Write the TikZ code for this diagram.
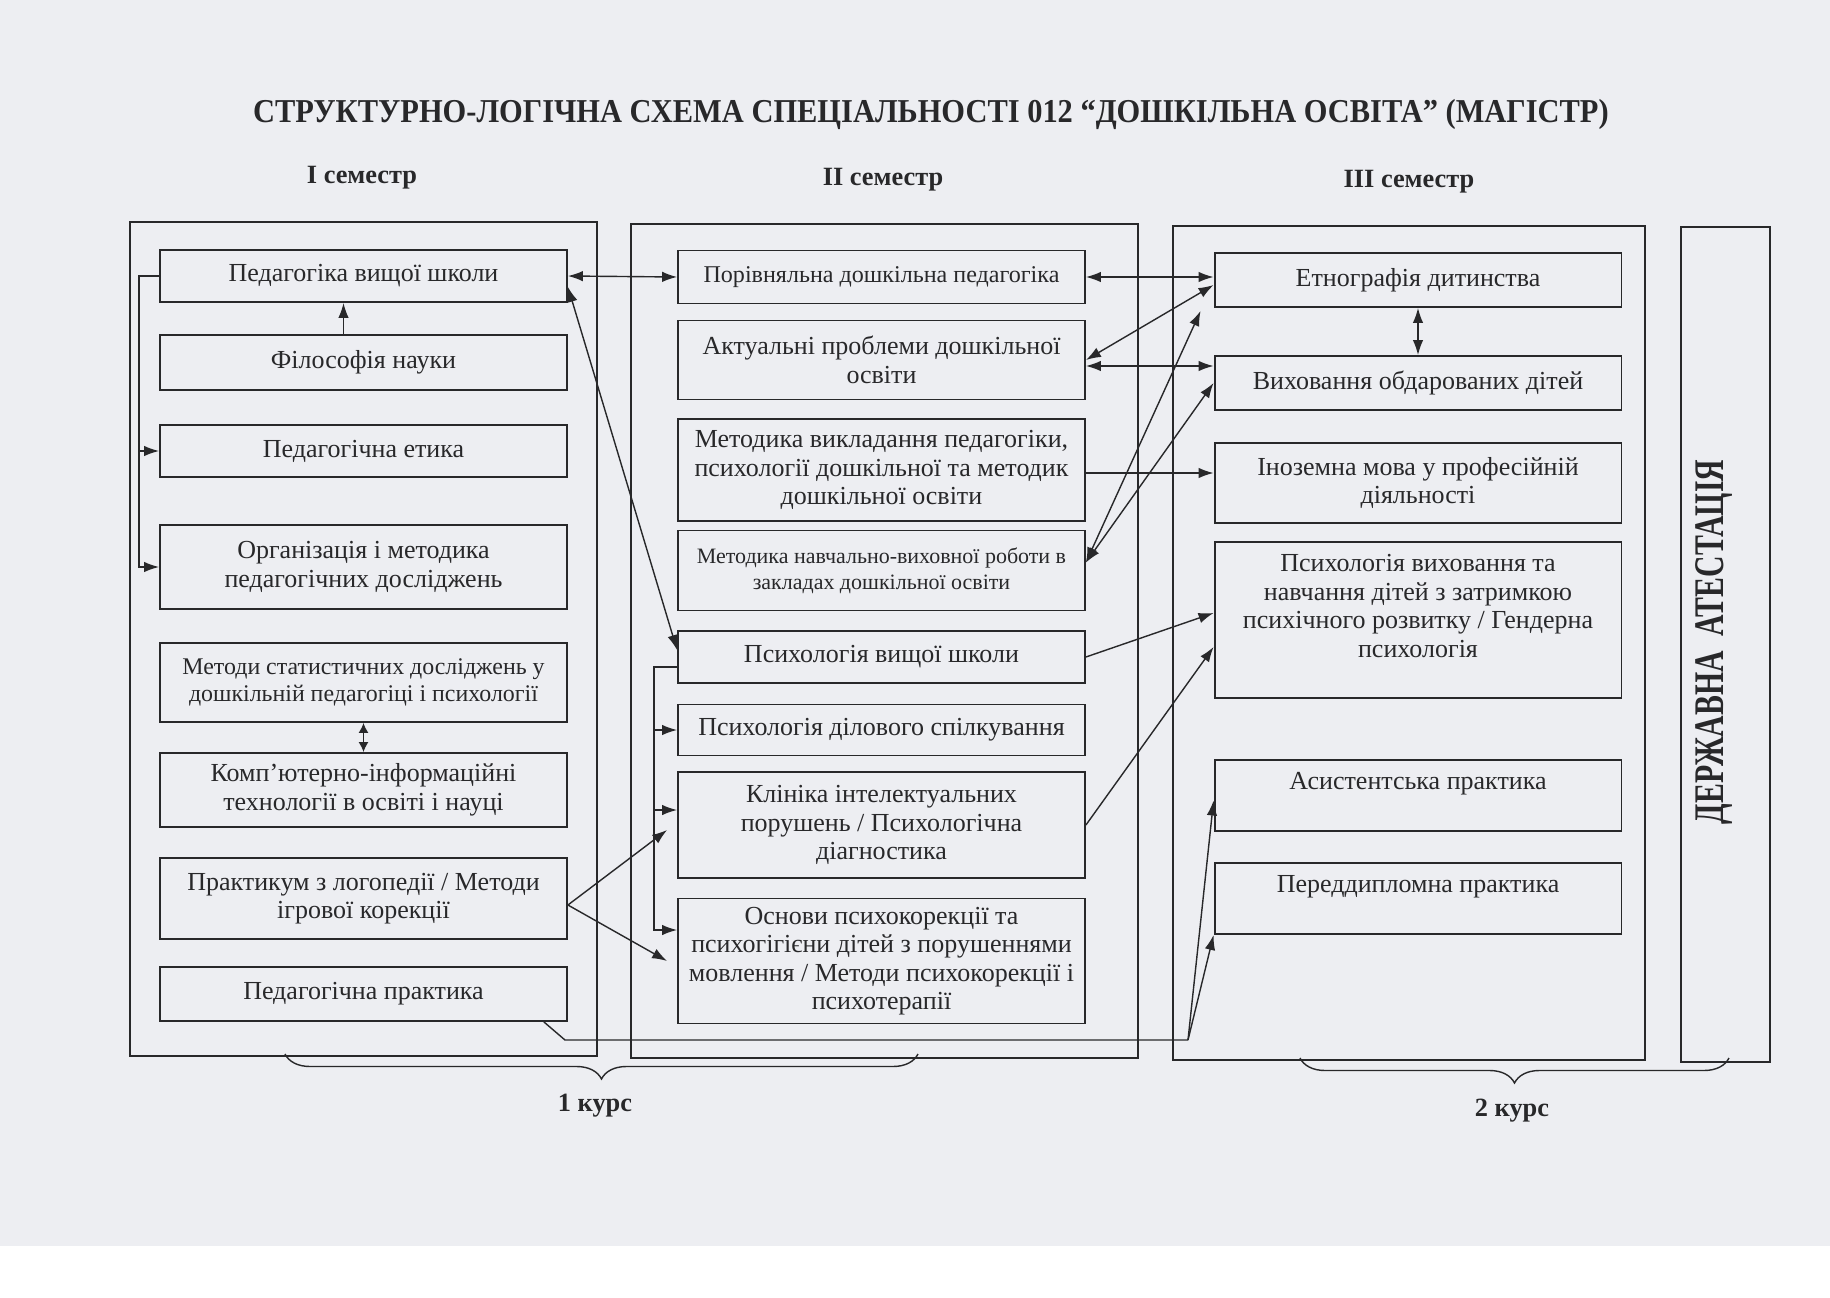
\documentclass[tikz,border=0pt]{standalone}
\usepackage{graphicx}
\usepackage{fontspec}
\setmainfont{Liberation Serif}
\usetikzlibrary{arrows.meta,decorations.pathreplacing,calc}
\definecolor{ink}{RGB}{40,40,42}
\definecolor{paper}{RGB}{237,238,242}

\begin{document}
\begin{tikzpicture}[x=0.02cm, y=-0.02cm,
    >={Latex[length=0.3cm,width=0.21cm]},
    box/.style={draw=ink, line width=1.1pt, minimum width=8.14cm, align=center, inner sep=2pt, text=ink, font=\fontsize{14.8}{16.2}\selectfont},
    frame/.style={draw=ink, line width=0.8pt},
    link/.style={draw=ink, line width=0.8pt},
    head/.style={text=ink, font=\bfseries\fontsize{15}{18}\selectfont},
    course/.style={decorate, decoration={brace, mirror, amplitude=0.5cm}, draw=ink, line width=0.8pt}]

    \fill[paper] (0,0) rectangle (1830,1246);
    \useasboundingbox (0,0) rectangle (1830,1298);

    \node[text=ink, font=\bfseries\fontsize{19}{22}\selectfont] (title) at (931,114) {\scalebox{0.912}[1]{СТРУКТУРНО-ЛОГІЧНА СХЕМА СПЕЦІАЛЬНОСТІ 012 “ДОШКІЛЬНА ОСВІТА” (МАГІСТР)}};

    \node[head] (sem1) at (362,178) {I семестр};
    \node[head] (sem2) at (883,180) {II семестр};
    \node[head] (sem3) at (1409,182) {III семестр};

    \draw[frame] (130,222) rectangle (597,1056);
    \draw[frame] (631,224) rectangle (1138,1058);
    \draw[frame] (1173,226) rectangle (1645,1060);
    \draw[frame] (1681,227) rectangle (1770,1062);
    \node[rotate=90, text=ink, font=\bfseries\fontsize{24}{28}\selectfont] (atest) at (1714,642) {\scalebox{0.707}[1]{ДЕРЖАВНА\ \ АТЕСТАЦІЯ}};

    \node[box, minimum height=1.04cm] (ped) at (363.5,276) {Педагогіка вищої школи};
    \node[box, minimum height=1.10cm] (fil) at (363.5,362.5) {Філософія науки};
    \node[box, minimum height=1.04cm] (etyka) at (363.5,451) {Педагогічна етика};
    \node[box, minimum height=1.68cm] (org) at (363.5,567) {Організація і методика\\педагогічних досліджень};
    \node[box, minimum height=1.58cm, font=\fontsize{13.6}{15.2}\selectfont] (stat) at (363.5,682.5) {Методи статистичних досліджень у\\дошкільній педагогіці і психології};
    \node[box, minimum height=1.48cm] (komp) at (363.5,790) {Комп'ютерно-інформаційні\\технології в освіті і науці};
    \node[box, minimum height=1.62cm] (prakt) at (363.5,898.5) {Практикум з логопедії / Методи\\ігрової корекції};
    \node[box, minimum height=1.08cm] (pedprakt) at (363.5,994) {Педагогічна практика};

    \node[box, minimum height=1.06cm, font=\fontsize{13.7}{15.2}\selectfont] (porivn) at (881.5,277) {Порівняльна дошкільна педагогіка};
    \node[box, minimum height=1.58cm] (aktual) at (881.5,360) {Актуальні проблеми дошкільної\\освіти};
    \node[box, minimum height=2.04cm] (metvykl) at (881.5,470) {Методика викладання педагогіки,\\психології дошкільної та методик\\дошкільної освіти};
    \node[box, minimum height=1.60cm, font=\fontsize{12.5}{14.8}\selectfont] (metnavch) at (881.5,570.5) {Методика навчально-виховної роботи в\\закладах дошкільної освіти};
    \node[box, minimum height=1.04cm] (psyvsh) at (881.5,657) {Психологія вищої школи};
    \node[box, minimum height=1.02cm] (psydil) at (881.5,730) {Психологія ділового спілкування};
    \node[box, minimum height=2.12cm] (klin) at (881.5,825) {Клініка інтелектуальних\\порушень / Психологічна\\діагностика};
    \node[box, minimum height=2.50cm] (osnovy) at (881.5,961) {Основи психокорекції та\\психогігієни дітей з порушеннями\\мовлення / Методи психокорекції і\\психотерапії};

    \node[box, minimum height=1.08cm] (etno) at (1418,280) {Етнографія дитинства};
    \node[box, minimum height=1.08cm] (obdar) at (1418,383) {Виховання обдарованих дітей};
    \node[box, minimum height=1.60cm] (inoz) at (1418,483) {Іноземна мова у професійній\\діяльності};
    \node[box, minimum height=3.12cm] (psyvykh) at (1418,620) {Психологія виховання та\\навчання дітей з затримкою\\психічного розвитку / Гендерна\\психологія\\\mbox{}};
    \node[box, minimum height=1.42cm] (asyst) at (1418,795.5) {Асистентська практика\\\mbox{}};
    \node[box, minimum height=1.42cm] (peredd) at (1418,898.5) {Переддипломна практика\\\mbox{}};

    \draw[link,<->] (ped.east) -- (porivn.west);
    \draw[link,<->] ([yshift=-0.22cm]ped.east) -- ([yshift=0.14cm]psyvsh.west);
    \draw[link,->] (ped.west) -- ++(-20,0) |- (org.west);
    \draw[link,->] ([xshift=-0.4cm]etyka.west) -- (etyka.west);
    \draw[link,->] ([xshift=-0.4cm]fil.north) -- ([xshift=-0.4cm]ped.south);
    \draw[link,{Latex[length=0.2cm,width=0.2cm]}-{Latex[length=0.2cm,width=0.2cm]}] (stat) -- (komp);
    \draw[link,->] ([yshift=-0.13cm]prakt.east) -- ([xshift=-0.2cm,yshift=-0.1cm]klin.west);
    \draw[link,->] ([yshift=-0.13cm]prakt.east) -- ([xshift=-0.2cm]osnovy.west);

    \draw[link,->] ([yshift=-0.2cm]psyvsh.west) -- ++(-23,0) |- ([yshift=0.62cm]osnovy.west);
    \draw[link,->] ([xshift=-0.46cm]psydil.west) -- (psydil.west);
    \draw[link,->] ([xshift=-0.46cm,yshift=0.3cm]klin.west) -- ([yshift=0.3cm]klin.west);

    \draw[link,<->] (porivn.east) -- (porivn.east -| etno.west);
    \draw[link,<->] (aktual.east) -- ([yshift=-0.1cm]etno.west);
    \draw[link,<->] ([yshift=-0.12cm]aktual.east) -- ([yshift=-0.12cm]aktual.east -| obdar.west);
    \draw[link,->] ([yshift=-0.06cm]metvykl.east) -- ([yshift=-0.06cm]metvykl.east -| inoz.west);
    \draw[link,<->] ([yshift=0.16cm]metnavch.east) -- ([xshift=-0.26cm,yshift=-0.06cm]etno.south west);
    \draw[link,<->] ([yshift=0.16cm]metnavch.east) -- (obdar.west);
    \draw[link,<->] (etno) -- (obdar);
    \draw[link,->] (psyvsh.east) -- ([yshift=0.14cm]psyvykh.west);
    \draw[link,->] (klin.east) -- ([yshift=-0.54cm]psyvykh.west);

    \coordinate (pknee) at (565,1040);
    \coordinate (pbend) at (1188,1040);
    \draw[link] ([xshift=-0.48cm]pedprakt.south east) -- (pknee) -- (pbend);
    \draw[link,->] (pbend) -- ([yshift=-0.1cm]asyst.west);
    \draw[link,->] (pbend) -- (peredd.south west);

    \draw[course] (285,1054) -- (918,1054);
    \node[head] (kurs1) at (595,1106) {1 курс};
    \draw[course] (1300,1058) -- (1729,1058);
    \node[head] (kurs2) at (1512,1111) {2 курс};
\end{tikzpicture}
\end{document}
